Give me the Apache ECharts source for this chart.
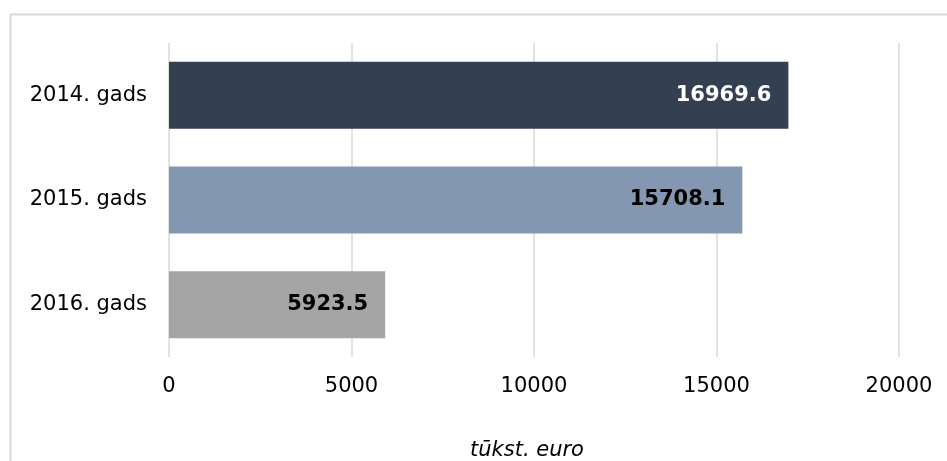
<!DOCTYPE html>
<html>
<head>
<meta charset="utf-8">
<script src="https://cdn.jsdelivr.net/npm/echarts@6/dist/echarts.min.js"></script>
<style>
  html, body { margin: 0; padding: 0; background: #fff; }
  #main { width: 947px; height: 461px; }
</style>
</head>
<body>
<div id="main"></div>
<script>
// data
var categories = ['2014. gads', '2015. gads', '2016. gads'];
var values = [16969.6, 15708.1, 5923.5];
var barColors = ['#353f52', '#8497b0', '#a5a5a5'];
var labelColors = ['#ffffff', '#000000', '#000000'];
var xTicks = [0, 5000, 10000, 15000, 20000];
var axisTitle = 'tūkst. euro';

var font = 'DejaVu Sans';

var myChart = echarts.init(document.getElementById('main'));

var barData = values.map(function (v, i) {
    return {
        value: v,
        itemStyle: { color: barColors[i] },
        label: { color: labelColors[i] }
    };
});

var option = {
    backgroundColor: '#fff',
    animation: false,
    graphic: [{
        type: 'rect',
        shape: { x: 10.5, y: 14.5, width: 1000, height: 1000 },
        style: { fill: 'none', stroke: '#d9d9d9', lineWidth: 2 }
    }],
    grid: {
        left: 169,
        right: 48,
        top: 43,
        bottom: 104,
        outerBoundsMode: 'none',
        containLabel: false
    },
    xAxis: {
        type: 'value',
        min: xTicks[0],
        max: xTicks[xTicks.length - 1],
        interval: xTicks[1] - xTicks[0],
        name: axisTitle,
        nameLocation: 'middle',
        nameGap: 83,
        nameTextStyle: {
            fontFamily: font,
            fontSize: 21,
            fontStyle: 'italic',
            color: '#000',
            padding: [0, 14, 0, 0]
        },
        axisLine: { show: false },
        axisTick: { show: false },
        axisLabel: {
            fontFamily: font,
            fontSize: 21,
            color: '#000',
            margin: 19,
            formatter: function (v) { return String(v); }
        },
        splitLine: {
            lineStyle: { color: '#d9d9d9', width: 1.5 }
        }
    },
    yAxis: {
        type: 'category',
        inverse: true,
        data: categories,
        axisLine: { show: false },
        axisTick: { show: false },
        axisLabel: {
            fontFamily: font,
            fontSize: 21,
            color: '#000',
            margin: 22
        }
    },
    series: [{
        type: 'bar',
        data: barData,
        barCategoryGap: '36%',
        label: {
            show: true,
            position: 'insideRight',
            distance: 17,
            fontFamily: font,
            fontSize: 21,
            fontWeight: 'bold',
            formatter: function (p) { return p.value.toFixed(1); }
        }
    }]
};

myChart.setOption(option);
</script>
</body>
</html>
